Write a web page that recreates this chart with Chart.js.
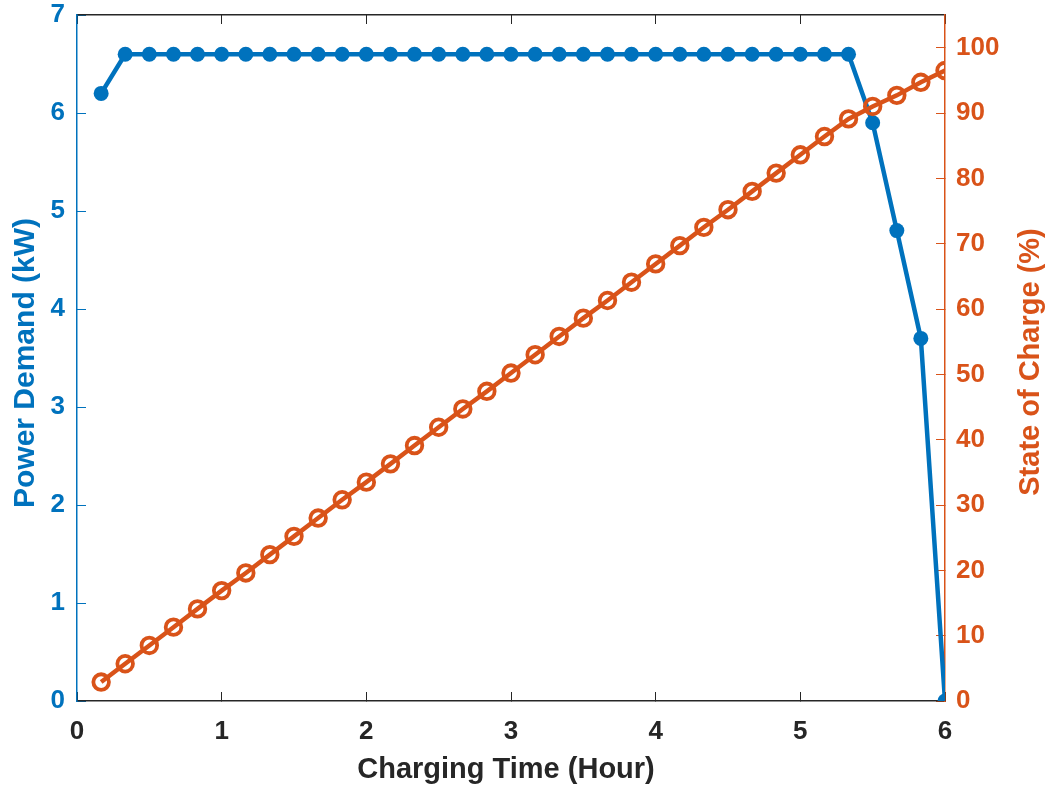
<!DOCTYPE html>
<html>
<head>
<meta charset="utf-8">
<script src="https://cdn.jsdelivr.net/npm/chart.js@4.4.1/dist/chart.umd.min.js"></script>
<style>
  html, body { margin: 0; padding: 0; background: #fff; }
  #wrap { width: 1049px; height: 789px; }
</style>
</head>
<body>
<div id="wrap"><canvas id="chart" width="1049" height="789"></canvas></div>
<script>
// charging time (hours), one sample every 10 minutes
const hours = [0.167, 0.333, 0.5, 0.667, 0.833, 1.0, 1.167, 1.333, 1.5, 1.667, 1.833, 2.0,
  2.167, 2.333, 2.5, 2.667, 2.833, 3.0, 3.167, 3.333, 3.5, 3.667, 3.833, 4.0,
  4.167, 4.333, 4.5, 4.667, 4.833, 5.0, 5.167, 5.333, 5.5, 5.667, 5.833, 6.0];

// power demand (kW)
const power = [6.2, 6.6, 6.6, 6.6, 6.6, 6.6, 6.6, 6.6, 6.6, 6.6, 6.6, 6.6,
  6.6, 6.6, 6.6, 6.6, 6.6, 6.6, 6.6, 6.6, 6.6, 6.6, 6.6, 6.6,
  6.6, 6.6, 6.6, 6.6, 6.6, 6.6, 6.6, 6.6, 5.9, 4.8, 3.7, 0];

// state of charge (%)
const soc = [2.9, 5.7, 8.5, 11.3, 14.1, 16.9, 19.6, 22.4, 25.2, 28.0, 30.8, 33.5,
  36.3, 39.1, 41.9, 44.7, 47.4, 50.2, 53.0, 55.8, 58.6, 61.3, 64.1, 66.9,
  69.7, 72.5, 75.2, 78.0, 80.8, 83.6, 86.4, 89.1, 91.0, 92.7, 94.7, 96.5];

const xTicks = [0, 1, 2, 3, 4, 5, 6];

const BLUE = '#0072BD';
const ORANGE = '#D95319';
const DARK = '#262626';
const FONT = '"Liberation Sans", Arial, Helvetica, sans-serif';

const toPoints = (ys) => hours.map((h, i) => ({ x: h, y: ys[i] }));

const tickFont = { family: FONT, size: 26, weight: 'bold' };

// no label overhang padding, so the plot box sits where we size it
const noOverhang = (scale) => {
  scale.paddingTop = 0; scale.paddingBottom = 0;
  scale.paddingLeft = 0; scale.paddingRight = 0;
};

// axis titles, placed like the matlab figure (both y titles read bottom-to-top)
const axisTitles = {
  id: 'axisTitles',
  afterDraw(chart) {
    const ctx = chart.ctx;
    const drawText = (text, x, y, size, color, rot, baseline) => {
      ctx.save();
      ctx.translate(x, y);
      ctx.rotate(rot);
      ctx.font = 'bold ' + size + 'px ' + FONT;
      ctx.fillStyle = color;
      ctx.textAlign = 'center';
      ctx.textBaseline = baseline;
      ctx.fillText(text, 0, 0);
      ctx.restore();
    };
    drawText('Charging Time (Hour)', 506, 778, 29, DARK, 0, 'alphabetic');
    drawText('Power Demand (kW)', 26, 363, 30, BLUE, -Math.PI / 2, 'middle');
    drawText('State of Charge (%)', 1031, 362, 29, ORANGE, -Math.PI / 2, 'middle');
  },
};

new Chart(document.getElementById('chart'), {
  type: 'line',
  data: {
    datasets: [
      {
        label: 'State of Charge',
        data: toPoints(soc),
        yAxisID: 'ySoc',
        borderColor: ORANGE,
        borderWidth: 4.5,
        pointStyle: 'circle',
        pointRadius: 7.8,
        pointBorderWidth: 3.8,
        pointBackgroundColor: 'rgba(0,0,0,0)',
        pointBorderColor: ORANGE,
        tension: 0,
        clip: 0,
        order: 0,
      },
      {
        label: 'Power Demand',
        data: toPoints(power),
        yAxisID: 'yPower',
        borderColor: BLUE,
        borderWidth: 4.5,
        pointStyle: 'circle',
        pointRadius: 7.5,
        pointBorderWidth: 0,
        pointBackgroundColor: BLUE,
        tension: 0,
        clip: 0,
        order: 1,
      },
    ],
  },
  options: {
    responsive: false,
    animation: false,
    events: [],
    layout: { padding: 0 },
    plugins: {
      legend: { display: false },
      tooltip: { enabled: false },
    },
    scales: {
      x: {
        type: 'linear',
        position: 'bottom',
        min: 0,
        max: 6,
        afterBuildTicks: (scale) => { scale.ticks = xTicks.map(v => ({ value: v })); },
        afterFit: (scale) => { scale.height = 88; noOverhang(scale); },
        ticks: { color: DARK, font: tickFont, padding: 24 },
        grid: { drawOnChartArea: false, tickLength: -9, tickColor: DARK, tickWidth: 1 },
        border: { color: DARK, width: 1.5 },
      },
      xTop: {
        type: 'linear',
        position: 'top',
        min: 0,
        max: 6,
        afterBuildTicks: (scale) => { scale.ticks = xTicks.map(v => ({ value: v })); },
        afterFit: (scale) => { scale.height = 15; noOverhang(scale); },
        ticks: { display: false },
        grid: { drawOnChartArea: false, tickLength: -9, tickColor: DARK, tickWidth: 1 },
        border: { color: DARK, width: 1.5 },
      },
      yPower: {
        type: 'linear',
        position: 'left',
        min: 0,
        max: 7,
        afterFit: (scale) => { scale.width = 77; noOverhang(scale); },
        ticks: { stepSize: 1, color: BLUE, font: tickFont, padding: 21 },
        grid: { drawOnChartArea: false, tickLength: -9, tickColor: BLUE, tickWidth: 1 },
        border: { color: BLUE, width: 1.5 },
      },
      ySoc: {
        type: 'linear',
        position: 'right',
        min: 0,
        max: 105,
        afterBuildTicks: (scale) => { scale.ticks = scale.ticks.filter(t => t.value <= 100); },
        afterFit: (scale) => { scale.width = 104; noOverhang(scale); },
        ticks: { stepSize: 10, color: ORANGE, font: tickFont, padding: 20 },
        grid: { drawOnChartArea: false, tickLength: -9, tickColor: ORANGE, tickWidth: 1 },
        border: { color: ORANGE, width: 1.5 },
      },
    },
  },
  plugins: [axisTitles],
});
</script>
</body>
</html>
